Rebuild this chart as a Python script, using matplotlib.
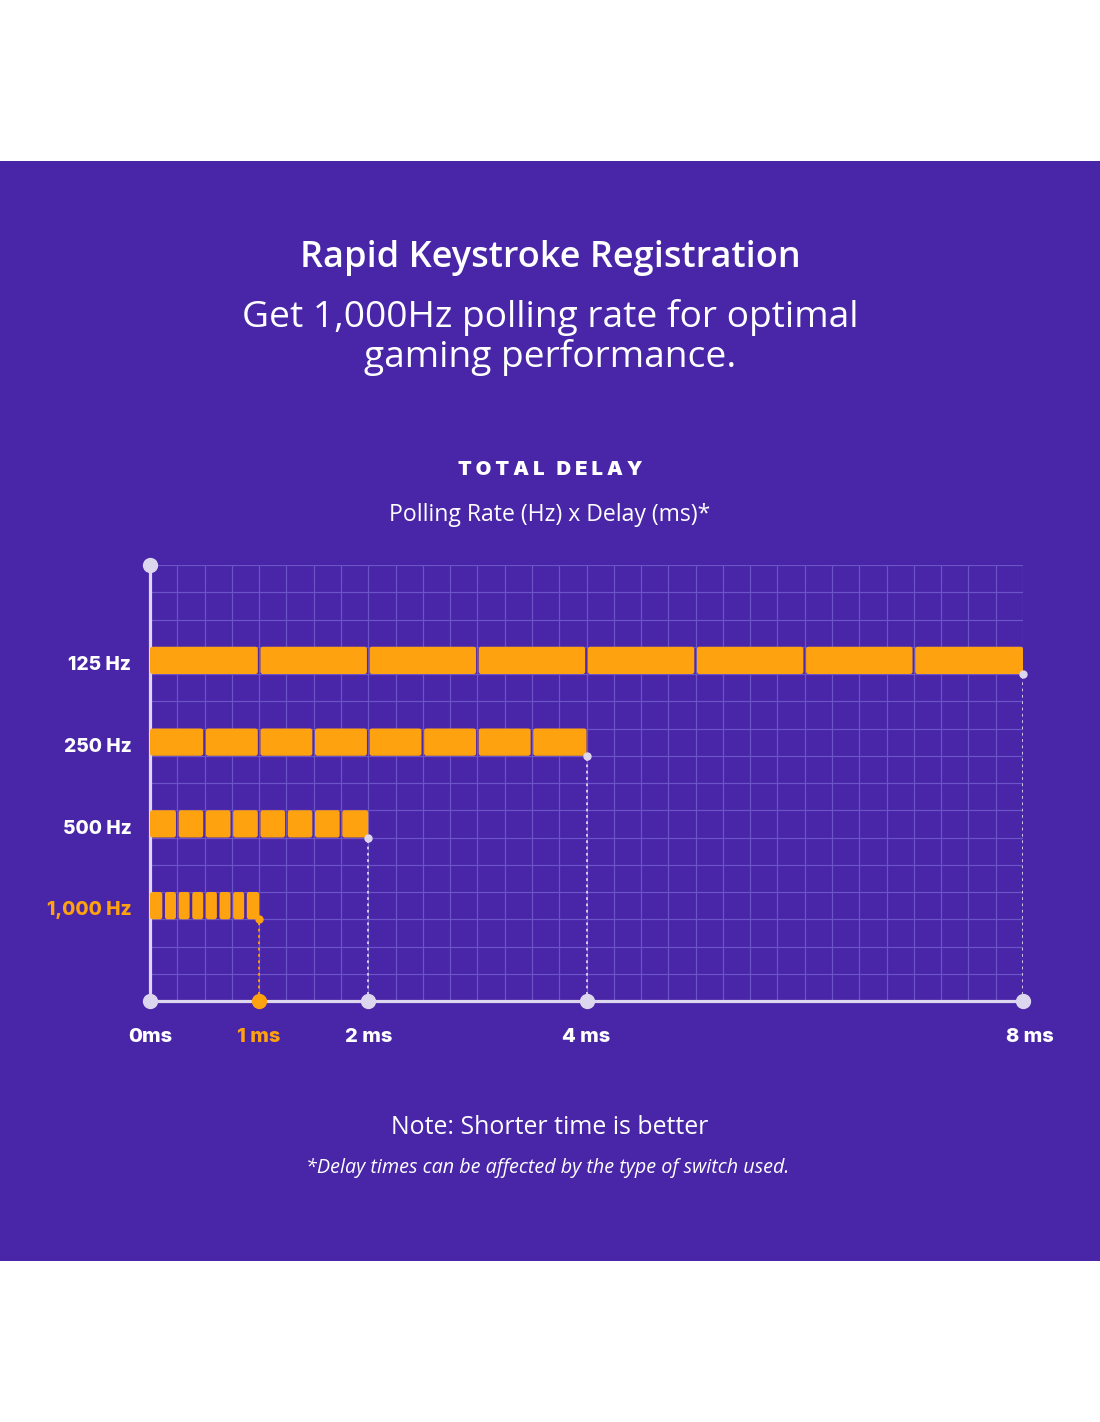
import matplotlib
matplotlib.use("Agg")
from matplotlib import pyplot as plt
from matplotlib.patches import FancyBboxPatch, Rectangle

# data
rate_labels = ["125 Hz", "250 Hz", "500 Hz", "1,000 Hz"]
poll_interval_ms = [1.0, 0.5, 0.25, 0.125]
polls_per_bar = [8, 8, 8, 8]
tick_ms = [0, 1, 2, 4, 8]
tick_labels = ["0ms", "1 ms", "2 ms", "4 ms", "8 ms"]
highlight = "1,000 Hz"
highlight_tick = "1 ms"

purple = "#4925a8"
orange = "#ffa20f"
lavender = "#dcd7ee"
grid_c = "#6a54c6"

W, H = 1100, 1422
fig = plt.figure(figsize=(W / 100, H / 100), dpi=100)
fig.patch.set_facecolor("white")

# purple panel
fig.patches.append(Rectangle((0, 1 - 1261 / H), 1, 1100 / H, transform=fig.transFigure,
                             facecolor=purple, edgecolor="none", zorder=-10))


def fx(px):
    return px / W


def fy(py):
    return 1 - py / H


def txt(x, y, s, **kw):
    fig.text(fx(x), fy(y), s, ha="center", va="center", **kw)


sans = ["Open Sans", "DejaVu Sans"]
bold = ["Inter", "DejaVu Sans"]

txt(550, 258, "Rapid Keystroke Registration", color="white", fontsize=26,
    fontweight="semibold", family=sans)
txt(550, 317, "Get 1,000Hz polling rate for optimal", color="white", fontsize=26.7, family=sans)
txt(550, 358, "gaming performance.", color="white", fontsize=26.7, family=sans)
txt(550, 470, "T O T A L   D E L A Y", color="white", fontsize=14.5, fontweight=900, family=bold)
txt(550, 515, "Polling Rate (Hz) x Delay (ms)*", color="white", fontsize=16.6, family=sans)
txt(550, 1127, "Note: Shorter time is better", color="white", fontsize=17.9, family=sans)
txt(548, 1168, "*Delay times can be affected by the type of switch used.", color="white",
    fontsize=14.2, style="italic", family=sans)

# chart axes: x in ms, y in grid rows (16 rows of 0.25 ms squares)
x0, x1, ytop, ybot = 150, 1023, 565, 1001
ax = fig.add_axes([fx(x0), fy(ybot), (x1 - x0) / W, (ybot - ytop) / H])
ax.set_xlim(0, 8)
ax.set_ylim(0, 16)
ax.axis("off")
ax.patch.set_alpha(0)

n_cols = 32
ax.vlines([i * 0.25 for i in range(1, n_cols + 1)], 0, 16, color=grid_c, lw=0.9, zorder=1)
ax.hlines(range(1, 17), 0, 8, color=grid_c, lw=0.9, zorder=1)

# axes lines
ax.plot([0, 0], [0, 16], color=lavender, lw=2.3, solid_capstyle="butt", zorder=3, clip_on=False)
ax.plot([0, 8], [0, 0], color=lavender, lw=2.3, solid_capstyle="butt", zorder=3, clip_on=False)
ax.plot([0], [16], "o", ms=10, color=lavender, zorder=5, clip_on=False)

gap = 0.012
for i, (lab, step, n) in enumerate(zip(rate_labels, poll_interval_ms, polls_per_bar)):
    row = 12 - 3 * i
    col = orange if lab == highlight else "white"
    for k in range(n):
        left = k * step + (gap if k > 0 else 0)
        right = (k + 1) * step - (gap if k < n - 1 else 0)
        ax.add_patch(FancyBboxPatch((left, row), right - left, 1,
                                    boxstyle="round,pad=0,rounding_size=0.022",
                                    mutation_aspect=4, facecolor=orange, edgecolor="none",
                                    zorder=4, clip_on=False))
    end = step * n
    mark = orange if lab == highlight else lavender
    ax.plot([end, end], [0, row], color=mark, lw=1.3, ls=(0, (1.5, 2)), zorder=2)
    ax.plot([end], [row], "o", ms=5, color=mark, zorder=5, clip_on=False)
    ax.text(-0.17, row + 0.33, lab, ha="right", va="center", color=col, fontsize=13.8,
            fontweight=800, family=bold)

for v, lab in zip(tick_ms, tick_labels):
    col = orange if lab == highlight_tick else lavender
    tcol = orange if lab == highlight_tick else "white"
    ax.plot([v], [0], "o", ms=10, color=col, zorder=6, clip_on=False)
    dx = 0.06 if v == 8 else 0.0
    ax.text(v + dx, -1.32, lab, ha="center", va="center", color=tcol, fontsize=14.5,
            fontweight=800, family=bold)

plt.savefig("out.png", dpi=100, facecolor=fig.get_facecolor())
